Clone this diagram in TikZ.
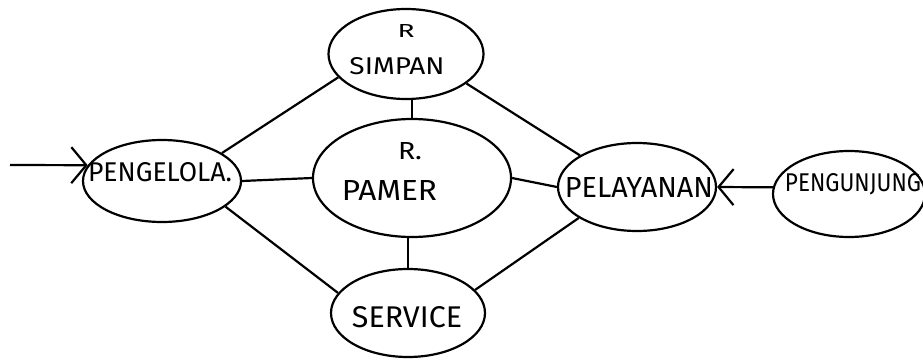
\documentclass[tikz,border=0pt]{standalone}
\usepackage{fontspec}
\setmainfont{Fira Sans}
\usepackage{graphicx}
\usetikzlibrary{shapes.geometric,arrows.meta}

% hand-lettered label: width, cap height, text
\newcommand\handlabel[3]{\resizebox{#1pt}{#2pt}{#3}}

\begin{document}
\begin{tikzpicture}[x=1pt,y=-1pt,
  line width=2.2pt,
  room/.style={draw,ellipse,inner sep=0pt,minimum width=#1},
  lbl/.style={inner sep=0pt,anchor=center},
  link/.style={draw},
  flow/.style={draw,-{Straight Barb[length=15pt,width=36pt,line width=2.2pt]}}]
  \useasboundingbox (0,0) rectangle (923,361);

  % rooms
  \node[room=158pt,minimum height=82pt]  (pengelola)  at (162,181) {};
  \node[room=155pt,minimum height=90pt]  (simpan)     at (406,54)  {};
  \node[room=198pt,minimum height=118pt] (pamer)      at (412,178) {};
  \node[room=154pt,minimum height=88pt]  (service)    at (408,313) {};
  \node[room=158pt,minimum height=88pt]  (pelayanan)  at (637,187) {};
  \node[room=152pt,minimum height=86pt]  (pengunjung) at (849,194) {};

  % room names
  \node[lbl] (tpengelola)  at (160,172.5) {\handlabel{144}{19}{PENGELOLA.}};
  \node[lbl] (tsimpanr)    at (406,31)    {\handlabel{17}{13}{R}};
  \node[lbl] (tsimpan)     at (397,66.5)  {\handlabel{95}{17}{SIMPAN}};
  \node[lbl] (tpamerr)     at (410,151.5) {\handlabel{24}{17}{R.}};
  \node[lbl] (tpamer)      at (389.5,190) {\handlabel{95}{20}{PAMER}};
  \node[lbl] (tservice)    at (407,317.5) {\handlabel{110}{21}{SERVICE}};
  \node[lbl] (tpelayanan)  at (639,187)   {\handlabel{148}{20}{PELAYANAN}};
  \node[lbl] (tpengunjung) at (853,184)   {\handlabel{136}{18}{PENGUNJUNG}};

  % relations between rooms
  \draw[link] (pengelola.25)   -- (simpan.199);
  \draw[link] (pengelola.east) -- (pamer.west);
  \draw[link] (pengelola.338)  -- (service.164);
  \draw[link] (pamer.north)    -- (pamer.north |- simpan.south);
  \draw[link] (simpan.334)     -- (pelayanan.151);
  \draw[link] (pamer.east)     -- (pelayanan.west);
  \draw[link] (service.north)  -- (service.north |- pamer.south);
  \draw[link] (service.19)     -- (pelayanan.208);

  % entrances
  \coordinate (entry) at (10,165);
  \draw[flow] (entry) -- (pengelola.168);
  \draw[flow] (pengunjung.175) -- (pelayanan.east);
\end{tikzpicture}
\end{document}
